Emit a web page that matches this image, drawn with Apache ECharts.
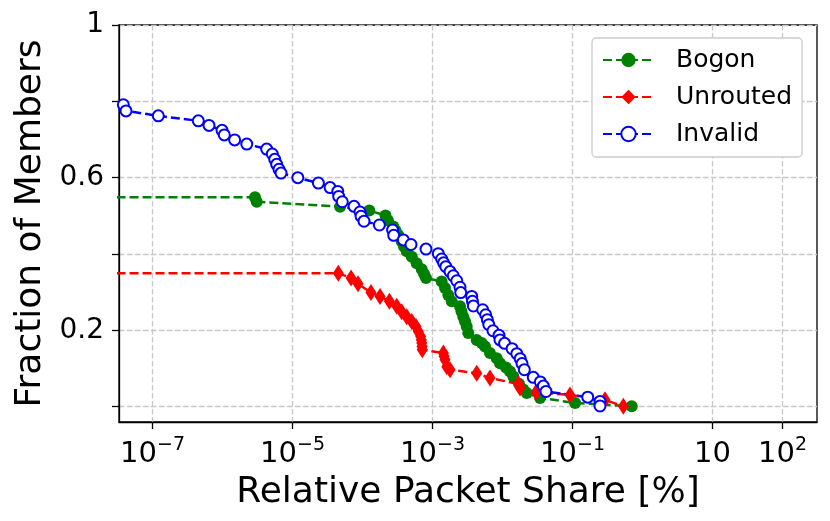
<!DOCTYPE html>
<html>
<head>
<meta charset="utf-8">
<script src="https://cdn.jsdelivr.net/npm/echarts@6/dist/echarts.min.js"></script>
<style>
  html, body { margin: 0; padding: 0; background: #fff; }
  #chart { width: 830px; height: 521px; }
</style>
</head>
<body>
<div id="chart"></div>
<script>
// data (x: relative packet share in %, y: fraction of members)
var bogonX = [1e-9, 2.91e-6, 3.08e-6, 4.78e-5, 1.25e-4, 2.13e-4, 2.31e-4, 2.75e-4, 2.96e-4, 3.24e-4, 3.63e-4,
  3.92e-4, 4.28e-4, 5.05e-4, 5.94e-4, 7.02e-4, 7.57e-4, 8.07e-4, 1.35e-3, 1.51e-3, 1.68e-3,
  1.88e-3, 2.47e-3, 2.59e-3, 2.75e-3, 2.91e-3, 3.08e-3, 3.24e-3, 4.28e-3, 5.05e-3, 5.62e-3,
  6.62e-3, 8.26e-3, 9.2e-3, 0.0112, 0.0128, 0.0143, 0.0172, 0.0198, 0.0222, 0.0344, 0.109, 0.702];
var bogonY = [0.549, 0.549, 0.537, 0.524, 0.514, 0.501, 0.488, 0.472, 0.462, 0.450, 0.433,
  0.420, 0.407, 0.393, 0.376, 0.360, 0.348, 0.337, 0.328, 0.311, 0.293,
  0.276, 0.263, 0.250, 0.236, 0.224, 0.210, 0.193, 0.175, 0.167, 0.158,
  0.141, 0.127, 0.114, 0.103, 0.092, 0.079, 0.060, 0.045, 0.036, 0.023, 0.010, 0.001];

var unroutedX = [1e-9, 4.51e-5, 6.86e-5, 8.63e-5, 1.32e-4, 1.78e-4, 2.42e-4, 3.08e-4, 3.63e-4, 4.28e-4, 5.05e-4,
  5.81e-4, 6.27e-4, 6.78e-4, 6.92e-4, 7.02e-4, 7.08e-4, 7.14e-4, 1.43e-3, 1.46e-3, 1.51e-3,
  1.60e-3, 1.78e-3, 4.28e-3, 6.62e-3, 0.0168, 0.0178, 0.0301, 0.0920, 0.291, 0.532];
var unroutedY = [0.350, 0.350, 0.337, 0.322, 0.299, 0.289, 0.276, 0.263, 0.249, 0.236, 0.223,
  0.210, 0.197, 0.184, 0.175, 0.167, 0.158, 0.149, 0.141, 0.132, 0.123,
  0.105, 0.097, 0.088, 0.075, 0.060, 0.049, 0.038, 0.031, 0.018, 0.001];

var invalidX = [3.83e-8, 4.18e-8, 1.21e-7, 4.51e-7, 6.41e-7, 9.84e-7, 1.06e-6, 1.49e-6, 2.22e-6, 4.27e-6,
  5.14e-6, 5.57e-6, 5.94e-6, 6.41e-6, 6.85e-6, 1.19e-5, 2.34e-5, 3.44e-5, 4.43e-5, 4.57e-5,
  5.14e-5, 7.57e-5, 9.2e-5, 9.53e-5, 1.05e-4, 1.74e-4, 2.69e-4, 2.79e-4, 3.83e-4, 4.93e-4,
  8.07e-4, 1.21e-3, 1.35e-3, 1.44e-3, 1.55e-3, 1.78e-3, 1.98e-3, 2.22e-3, 2.47e-3, 2.53e-3,
  3.63e-3, 3.72e-3, 3.83e-3, 5.21e-3, 5.75e-3, 6.07e-3, 6.37e-3, 7.31e-3, 8.91e-3, 9.2e-3,
  0.0107, 0.0137, 0.0160, 0.0179, 0.0190, 0.0205, 0.0275, 0.0347, 0.0383, 0.0418,
  0.165, 0.247, 0.247];
var invalidY = [0.791, 0.775, 0.762, 0.749, 0.737, 0.724, 0.712, 0.699, 0.688, 0.675,
  0.662, 0.648, 0.635, 0.622, 0.612, 0.600, 0.586, 0.574, 0.564, 0.551,
  0.537, 0.525, 0.510, 0.499, 0.486, 0.476, 0.463, 0.449, 0.437, 0.425,
  0.413, 0.401, 0.387, 0.377, 0.367, 0.354, 0.343, 0.330, 0.313, 0.299,
  0.289, 0.276, 0.264, 0.254, 0.241, 0.228, 0.215, 0.199, 0.187, 0.175,
  0.166, 0.152, 0.139, 0.126, 0.113, 0.097, 0.077, 0.065, 0.054, 0.040,
  0.025, 0.014, 0.002];

var xTicks = [1e-7, 1e-5, 1e-3, 1e-1, 10, 100];
// tick label: base and superscript ('' = none)
var xTickBase = ['10', '10', '10', '10', '10', '10'];
var xTickExp = ['−7', '−5', '−3', '−1', '', '2'];
var yTicks = [0, 0.2, 0.4, 0.6, 0.8, 1];
var yTickLabels = [0.2, 0.6, 1];

function pairs(xs, ys) {
  return xs.map(function (x, i) { return [x, ys[i]]; });
}

var font = 'DejaVu Sans';
var gridLine = { show: true, lineStyle: { color: '#c8c8c8', width: 1.3, type: [5.5, 2.5] } };

var myChart = echarts.init(document.getElementById('chart'));
var option = {
  animation: false,
  backgroundColor: '#fff',
  textStyle: { fontFamily: font },
  grid: {
    left: 119, right: 13, top: 25, bottom: 99,
    show: true, borderColor: '#000', borderWidth: 1.3,
    outerBoundsMode: 'none'
  },
  legend: {
    orient: 'vertical',
    left: 592, top: 38,
    padding: [9, 10, 10, 10],
    itemGap: 11,
    itemWidth: 51,
    itemHeight: 18,
    backgroundColor: '#fff',
    borderColor: '#cccccc',
    borderWidth: 1.3,
    borderRadius: 4,
    textStyle: { fontFamily: font, fontSize: 25, color: '#000', lineHeight: 26, padding: [0, 0, 0, 17] },
    data: ['Bogon', 'Unrouted', 'Invalid']
  },
  xAxis: {
    type: 'log',
    logBase: 10,
    min: 3.32e-8,
    max: 311,
    name: 'Relative Packet Share [%]',
    nameLocation: 'middle',
    nameGap: 53,
    nameTextStyle: { fontFamily: font, fontSize: 36, color: '#000' },
    axisLine: { show: true, onZero: false, lineStyle: { color: '#000', width: 1.3 } },
    axisTick: { show: true, length: 7, lineStyle: { color: '#000', width: 1.3 }, customValues: xTicks },
    axisLabel: {
      fontFamily: font, color: '#000', margin: 14,
      customValues: xTicks,
      formatter: function (v) {
        var i = xTicks.findIndex(function (t) { return Math.abs(Math.log10(t) - Math.log10(v)) < 1e-6; });
        if (i < 0) return '';
        return '{b|' + xTickBase[i] + '}' + (xTickExp[i] ? '{s|' + xTickExp[i] + '}' : '');
      },
      rich: {
        b: { fontFamily: font, fontSize: 29, lineHeight: 36, color: '#000' },
        s: { fontFamily: font, fontSize: 19, lineHeight: 24, verticalAlign: 'top', color: '#000' }
      }
    },
    splitLine: gridLine,
    minorTick: { show: false },
    minorSplitLine: { show: false }
  },
  yAxis: {
    type: 'value',
    min: -0.04,
    max: 1,
    name: 'Fraction of Members',
    nameLocation: 'middle',
    nameGap: 70,
    nameTextStyle: { fontFamily: font, fontSize: 36, color: '#000' },
    axisLine: { show: true, onZero: false, lineStyle: { color: '#000', width: 1.3 } },
    axisTick: { show: true, length: 7, lineStyle: { color: '#000', width: 1.3 }, customValues: yTicks },
    axisLabel: {
      fontFamily: font, fontSize: 28, color: '#000', margin: 15,
      customValues: yTickLabels,
      formatter: function (v) { return String(v); }
    },
    splitLine: gridLine
  },
  series: [
    {
      name: 'Bogon',
      type: 'line',
      data: pairs(bogonX, bogonY),
      symbol: 'circle',
      symbolSize: 12,
      itemStyle: { color: '#008000' },
      lineStyle: { color: '#008000', width: 2.5, type: [9, 4] },
      clip: true
    },
    {
      name: 'Unrouted',
      type: 'line',
      data: pairs(unroutedX, unroutedY),
      symbol: 'diamond',
      symbolSize: [11, 17],
      itemStyle: { color: '#ff0000' },
      lineStyle: { color: '#ff0000', width: 2.5, type: [9, 4] },
      clip: true
    },
    {
      name: 'Invalid',
      type: 'line',
      data: pairs(invalidX, invalidY),
      symbol: 'circle',
      symbolSize: 11,
      itemStyle: { color: '#fff', borderColor: '#0000ff', borderWidth: 2 },
      lineStyle: { color: '#0000ff', width: 2.5, type: [9, 4] },
      clip: true
    }
  ]
};
myChart.setOption(option);
</script>
</body>
</html>
